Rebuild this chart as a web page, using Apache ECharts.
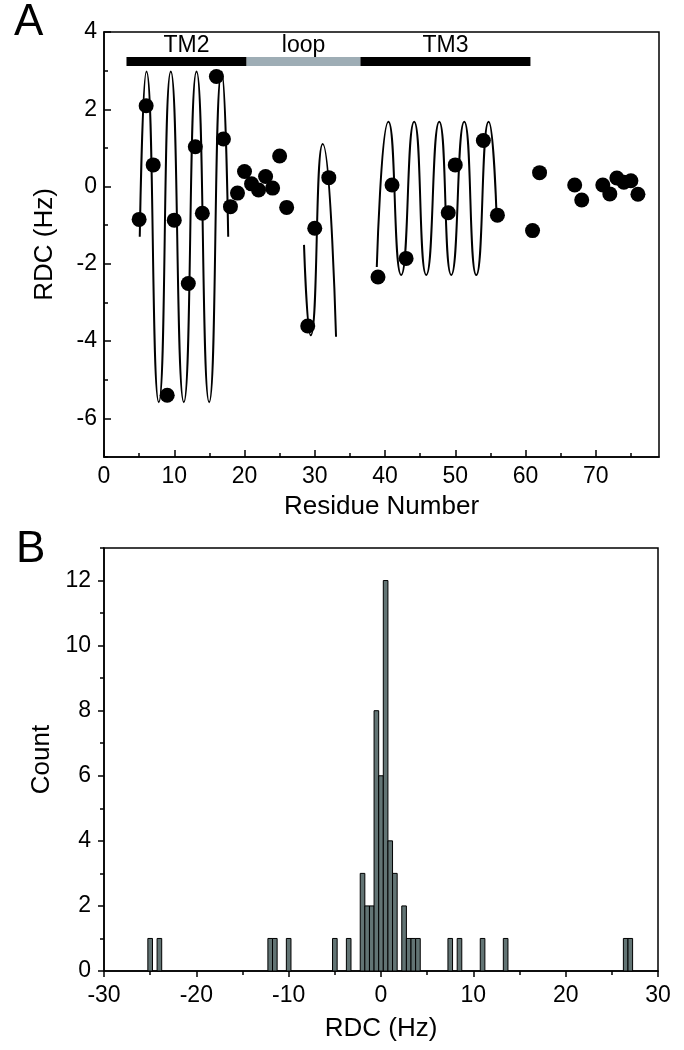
<!DOCTYPE html>
<html><head><meta charset="utf-8">
<script src="https://cdn.jsdelivr.net/npm/echarts@6/dist/echarts.min.js"></script>
<style>html,body{margin:0;padding:0;background:#fff}#c{width:684px;height:1050px}</style>
</head><body><div id="c"></div>
<script>
// ---- Panel A data ----
const residues = [5,6,7,9,10,12,13,14,16,17,18,19,20,21,22,23,24,25,26,29,30,32,39,41,43,49,50,54,56,61,62,67,68,71,72,73,74,75,76];
const rdc = [-0.85,2.09,0.56,-5.40,-0.87,-2.51,1.03,-0.69,2.85,1.23,-0.52,-0.17,0.39,0.07,-0.09,0.26,-0.04,0.79,-0.54,-3.61,-1.08,0.23,-2.34,0.04,-1.86,-0.68,0.56,1.19,-0.74,-1.14,0.36,0.04,-0.35,0.04,-0.19,0.22,0.11,0.15,-0.20];
// fitted wave curves, extrema
const fitTM2X = [5.09,6.04,7.8,9.51,11.36,13.17,14.97,16.74,17.68];
const fitTM2Y = [-1.30,2.98,-5.58,2.98,-5.58,2.98,-5.58,2.98,-1.30];
const fitLoopX = [28.47,29.42,31.13,33.03];
const fitLoopY = [-1.51,-3.85,1.10,-3.89];
const fitTM3X = [38.83,40.49,42.3,44.15,45.87,47.72,49.43,51.28,52.99,54.75,55.9];
const fitTM3Y = [-2.08,1.68,-2.29,1.68,-2.29,1.68,-2.29,1.68,-2.29,1.68,-0.85];
// topology segments
const segNames = ['TM2','loop','TM3'];
const segStart = [3.2,20.3,36.5];
const segEnd = [20.3,36.5,60.7];
// ticks
const xTicksA = [0,10,20,30,40,50,60,70];
const xMinorA = [5,15,25,35,45,55,65,75];
const yTicksA = [-6,-4,-2,0,2,4];
const yMinorA = [-7,-5,-3,-1,1,3];
// ---- Panel B data ----
const binCenters = [-25,-24,-12,-11.5,-10,-5,-3.5,-2,-1.5,-1,-0.5,0,0.5,1,1.5,2.5,3,3.5,4,7.5,8.5,11,13.5,26.5,27];
const binCounts  = [1,1,1,1,1,1,1,3,2,2,8,6,12,4,3,2,1,1,1,1,1,1,1,1,1];
const binWidth = 0.5;
const xTicksB = [-30,-20,-10,0,10,20,30];
const yTicksB = [0,2,4,6,8,10,12];
const yMinorB = [1,3,5,7,9,11,13];

const FONT = '"Liberation Sans", Arial, sans-serif';
const chart = echarts.init(document.getElementById('c'), null, {renderer:'canvas'});
const zip = (xs, ys) => xs.map((x,i)=>[x, ys[i]]);
const segColors = ['#000000','#9eadb5','#000000'];
const barY = 3.235;
const lblStyle = {color:'#000', fontSize:23, fontFamily:FONT};
const nameStyle = {color:'#000', fontSize:26, fontFamily:FONT};
const lineAx = {show:true, onZero:false, lineStyle:{color:'#000', width:1.5}};
const tk = {color:'#000', width:1.5};

const option = {
  animation:false,
  backgroundColor:'#fff',
  grid:[
    {left:104, top:32, width:555, height:425, show:true, borderColor:'#000', borderWidth:1.5, containLabel:false},
    {left:104, top:548, width:554, height:423, show:true, borderColor:'#000', borderWidth:1.5, containLabel:false}
  ],
  xAxis:[
    {type:'value', gridIndex:0, position:'bottom', min:0, max:79, axisLine:lineAx,
     axisTick:{show:true, inside:true, length:7, lineStyle:tk, customValues:xTicksA},
     axisLabel:{...lblStyle, margin:8, customValues:xTicksA}, splitLine:{show:false},
     name:'Residue Number', nameLocation:'middle', nameGap:37, nameTextStyle:nameStyle},
    {type:'value', gridIndex:0, position:'bottom', offset:0, min:0, max:79, axisLine:{show:false, onZero:false},
     axisTick:{show:true, inside:true, length:4, lineStyle:tk, customValues:xMinorA},
     axisLabel:{show:false}, splitLine:{show:false}},
    {type:'value', gridIndex:1, position:'bottom', min:-30, max:30, interval:10, axisLine:lineAx,
     axisTick:{show:true, inside:false, length:6, lineStyle:tk},
     minorTick:{show:true, splitNumber:2, length:4, lineStyle:tk},
     axisLabel:{...lblStyle, margin:13}, splitLine:{show:false},
     name:'RDC (Hz)', nameLocation:'middle', nameGap:45, nameTextStyle:nameStyle}
  ],
  yAxis:[
    {type:'value', gridIndex:0, position:'left', min:-7, max:4, axisLine:lineAx,
     axisTick:{show:true, inside:true, length:7, lineStyle:tk, customValues:yTicksA},
     axisLabel:{...lblStyle, margin:7, customValues:yTicksA}, splitLine:{show:false},
     name:'RDC (Hz)', nameLocation:'middle', nameGap:46, nameTextStyle:nameStyle},
    {type:'value', gridIndex:0, position:'left', offset:0, min:-7, max:4, axisLine:{show:false, onZero:false},
     axisTick:{show:true, inside:true, length:4, lineStyle:tk, customValues:yMinorA},
     axisLabel:{show:false}, splitLine:{show:false}},
    {type:'value', gridIndex:1, position:'left', min:0, max:13, axisLine:lineAx,
     axisTick:{show:true, inside:false, length:6, lineStyle:tk, customValues:yTicksB},
     axisLabel:{...lblStyle, margin:13, customValues:yTicksB}, splitLine:{show:false},
     name:'Count', nameLocation:'middle', nameGap:46, nameTextStyle:nameStyle},
    {type:'value', gridIndex:1, position:'left', offset:0, min:0, max:13, axisLine:{show:false, onZero:false},
     axisTick:{show:true, inside:false, length:4, lineStyle:tk, customValues:yMinorB},
     axisLabel:{show:false}, splitLine:{show:false}}
  ],
  graphic:[
    {type:'text', left:14, top:1, style:{text:'A', font:'44px ' + FONT, fill:'#000'}},
    {type:'text', left:16, top:528, style:{text:'B', font:'44px ' + FONT, fill:'#000'}}
  ],
  series:[
    {type:'custom', xAxisIndex:0, yAxisIndex:0, clip:false,
     data: segNames.map((n,i)=>[segStart[i], segEnd[i], i]),
     encode:{x:[0,1]},
     renderItem:(params, api)=>{
       const s = api.coord([api.value(0), barY]);
       const e = api.coord([api.value(1), barY]);
       const i = api.value(2);
       return {type:'group', children:[
         {type:'rect', shape:{x:s[0], y:s[1]-4.5, width:e[0]-s[0], height:9}, style:{fill:segColors[i]}},
         {type:'text', style:{text:segNames[i], x:(s[0]+e[0])/2, y:s[1]-16, align:'center', verticalAlign:'middle', fontSize:23, fontFamily:FONT, fill:'#000'}}
       ]};
     }},
    {type:'line', xAxisIndex:0, yAxisIndex:0, data:zip(fitTM2X, fitTM2Y), smooth:0.6, showSymbol:false, lineStyle:{color:'#000', width:2}, z:3},
    {type:'line', xAxisIndex:0, yAxisIndex:0, data:zip(fitLoopX, fitLoopY), smooth:0.6, showSymbol:false, lineStyle:{color:'#000', width:2}, z:3},
    {type:'line', xAxisIndex:0, yAxisIndex:0, data:zip(fitTM3X, fitTM3Y), smooth:0.6, showSymbol:false, lineStyle:{color:'#000', width:2}, z:3},
    {type:'scatter', xAxisIndex:0, yAxisIndex:0, data:zip(residues, rdc), symbol:'circle', symbolSize:15, itemStyle:{color:'#000', opacity:1}, z:5},
    {type:'custom', xAxisIndex:2, yAxisIndex:2,
     data: zip(binCenters, binCounts),
     encode:{x:0, y:1},
     renderItem:(params, api)=>{
       const c = api.value(0), n = api.value(1);
       const p0 = api.coord([c - binWidth/2, n]);
       const p1 = api.coord([c + binWidth/2, 0]);
       return {type:'rect', shape:{x:p0[0], y:p0[1], width:p1[0]-p0[0], height:p1[1]-p0[1]},
               style:{fill:'#627474', stroke:'#000', lineWidth:1}};
     }}
  ]
};
chart.setOption(option);
</script></body></html>
